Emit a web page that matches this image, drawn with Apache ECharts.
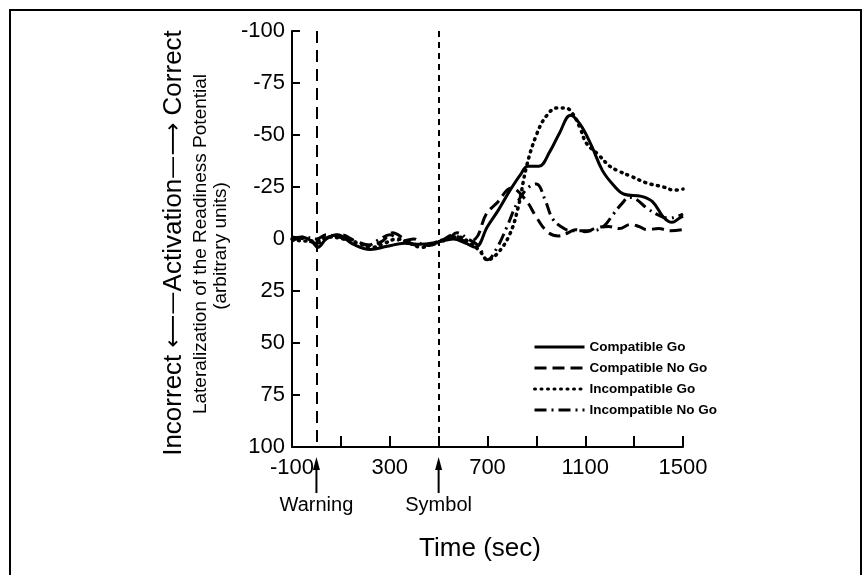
<!DOCTYPE html>
<html>
<head>
<meta charset="utf-8">
<script src="https://cdn.jsdelivr.net/npm/echarts@6/dist/echarts.min.js"></script>
<style>
  html, body { margin: 0; padding: 0; background: #fff; }
  #chart { width: 868px; height: 575px; }
</style>
</head>
<body>
<div id="chart"></div>
<script>
// time (ms) / lateralization (arbitrary units)
var compatibleGo = [
  [-100, 0], [-60, -1], [-20, 1], [5, 4], [40, 0], [85, -2], [150, 2.5], [220, 5],
  [290, 3.5], [360, 2], [425, 2.5], [495, 1.5], [560, 0], [610, 2], [650, 4],
  [700, -6], [745, -14], [790, -23], [835, -31], [865, -35], [910, -35], [955, -42],
  [995, -51], [1040, -59.5], [1080, -55], [1125, -45], [1170, -33], [1215, -26],
  [1260, -21.5], [1330, -20.5], [1375, -18], [1420, -10.5], [1455, -8], [1485, -10], [1500, -11]
];
var compatibleNoGo = [
  [-100, -1], [-50, 0], [0, 2], [50, -1], [100, -2], [160, 1], [220, 3], [270, 1],
  [312, -3], [360, 0], [410, 3], [460, 3], [510, 1], [560, -2], [610, 1], [650, 0],
  [695, -12], [740, -17.5], [798, -24.5], [855, -19], [900, -10.5], [945, -3.5],
  [990, -1.5], [1030, -3], [1060, -4.5], [1100, -3.5], [1150, -5.5], [1195, -6],
  [1240, -5], [1285, -7], [1320, -6], [1352, -4.5], [1400, -5], [1450, -4], [1500, -4.5]
];
var incompatibleGo = [
  [-100, 0], [-50, 1], [0, 1], [50, -1], [110, 0], [170, 2], [230, 4], [280, 2],
  [330, 0], [380, 2], [430, 4], [480, 2], [530, 0], [580, -1], [630, 2], [670, 6],
  [700, 10], [740, 7], [790, -2], [825, -15], [860, -35], [900, -50], [940, -59],
  [985, -63], [1020, -63], [1050, -60], [1080, -53], [1105, -46], [1150, -41],
  [1200, -35], [1230, -33], [1290, -30], [1350, -27], [1420, -25], [1465, -23.5], [1500, -24]
];
var incompatibleNoGo = [
  [-100, 1], [-50, -1], [0, 0], [40, -2], [90, -1], [150, 1], [210, 3], [260, 0],
  [300, -2], [350, 1], [400, 0], [440, 3], [490, 2], [540, 0], [575, -3], [620, 0],
  [660, 3], [700, 10], [740, 4], [780, -6], [820, -17], [860, -24], [900, -26.5],
  [935, -19], [965, -10], [1000, -6], [1040, -4], [1080, -4], [1130, -4], [1175, -6],
  [1215, -12], [1250, -17], [1280, -20], [1310, -19], [1350, -15], [1400, -11.5],
  [1440, -10], [1480, -11], [1500, -12]
];
var seriesNames = ['Compatible Go', 'Compatible No Go', 'Incompatible Go', 'Incompatible No Go'];
var eventTimes = [0, 500];
var eventNames = ['Warning', 'Symbol'];
var xLabelTicks = [-100, 300, 700, 1100, 1500];

var FONT = '"Liberation Sans", Arial, sans-serif';
var chart = echarts.init(document.getElementById('chart'));

var dashes = ['solid', [12, 6], [1, 5.5], [12, 5, 2, 5]];
var datas = [compatibleGo, compatibleNoGo, incompatibleGo, incompatibleNoGo];

var series = datas.map(function (d, i) {
  return {
    name: seriesNames[i],
    type: 'line',
    data: d,
    smooth: 0.4,
    showSymbol: false,
    symbol: 'none',
    lineStyle: { color: '#000', width: i === 2 ? 3.5 : 3, type: dashes[i], cap: i === 2 ? 'round' : 'butt' },
    itemStyle: { color: '#000' }
  };
});

series[0].markLine = {
  silent: true,
  symbol: ['none', 'none'],
  label: { show: false },
  data: eventTimes.map(function (t, i) {
    return {
      xAxis: t,
      lineStyle: { color: '#000', width: 2, type: i === 0 ? [12, 7] : [6, 5] }
    };
  })
};

chart.setOption({
  animation: false,
  backgroundColor: '#fff',
  grid: { left: 292, right: 185, top: 31, bottom: 128 },
  legend: {
    orient: 'vertical',
    left: 528,
    top: 335,
    itemWidth: 50,
    itemHeight: 14,
    itemGap: 7,
    data: seriesNames,
    itemStyle: { opacity: 0 },
    lineStyle: { opacity: 1, width: 3 },
    textStyle: { color: '#000', fontFamily: FONT, fontSize: 13.5, fontWeight: 'bold' }
  },
  xAxis: {
    type: 'value',
    min: -100,
    max: 1500,
    interval: 200,
    axisLine: { onZero: false, lineStyle: { color: '#000', width: 2 } },
    axisTick: { inside: true, length: 11, lineStyle: { color: '#000', width: 2 } },
    splitLine: { show: false },
    axisLabel: {
      color: '#000', fontFamily: FONT, fontSize: 22, margin: 10,
      showMinLabel: true, showMaxLabel: true,
      formatter: function (v) { return xLabelTicks.indexOf(v) >= 0 ? String(v) : ''; }
    }
  },
  yAxis: {
    type: 'value',
    inverse: true,
    min: -100,
    max: 100,
    interval: 25,
    axisLine: { show: true, onZero: false, lineStyle: { color: '#000', width: 2 } },
    axisTick: { show: true, inside: true, length: 8, lineStyle: { color: '#000', width: 2 } },
    splitLine: { show: false },
    axisLabel: { color: '#000', fontFamily: FONT, fontSize: 22, margin: 7 }
  },
  series: series
});

// annotations positioned through the axis scale
var graphics = [
  {
    type: 'rect', silent: true,
    shape: { x: 10, y: 10, width: 851, height: 575 },
    style: { fill: 'none', stroke: '#000', lineWidth: 2 }
  },
  {
    type: 'text', x: 174, y: 243, rotation: Math.PI / 2,
    style: {
      text: '{w|Incorrect}{a| ⟵—}{w|Activation}{a|—⟶ }{w|Correct}',
      textAlign: 'center', textVerticalAlign: 'middle', fill: '#000',
      rich: {
        w: { fontFamily: FONT, fontSize: 26, fill: '#000' },
        a: { fontFamily: '"DejaVu Sans"', fontSize: 23, fill: '#000' }
      }
    }
  },
  {
    type: 'text', x: 201, y: 244, rotation: Math.PI / 2,
    style: {
      text: 'Lateralization of the Readiness Potential',
      font: '19px ' + FONT, fill: '#000', textAlign: 'center', textVerticalAlign: 'middle'
    }
  },
  {
    type: 'text', x: 221, y: 246, rotation: Math.PI / 2,
    style: {
      text: '(arbitrary units)',
      font: '19px ' + FONT, fill: '#000', textAlign: 'center', textVerticalAlign: 'middle'
    }
  },
  {
    type: 'text', x: 480, y: 549,
    style: {
      text: 'Time (sec)',
      font: '26px ' + FONT, fill: '#000', textAlign: 'center', textVerticalAlign: 'middle'
    }
  }
];

eventTimes.forEach(function (t, i) {
  var px = chart.convertToPixel({ xAxisIndex: 0 }, t);
  graphics.push({
    type: 'line', silent: true,
    shape: { x1: px, y1: 466, x2: px, y2: 493 },
    style: { stroke: '#000', lineWidth: 2 }
  });
  graphics.push({
    type: 'polygon', silent: true,
    shape: { points: [[px, 457], [px - 3.5, 470], [px + 3.5, 470]] },
    style: { fill: '#000' }
  });
  graphics.push({
    type: 'text', x: px, y: 505,
    style: {
      text: eventNames[i],
      font: '20px ' + FONT, fill: '#000', textAlign: 'center', textVerticalAlign: 'middle'
    }
  });
});

chart.setOption({ graphic: graphics });
</script>
</body>
</html>
